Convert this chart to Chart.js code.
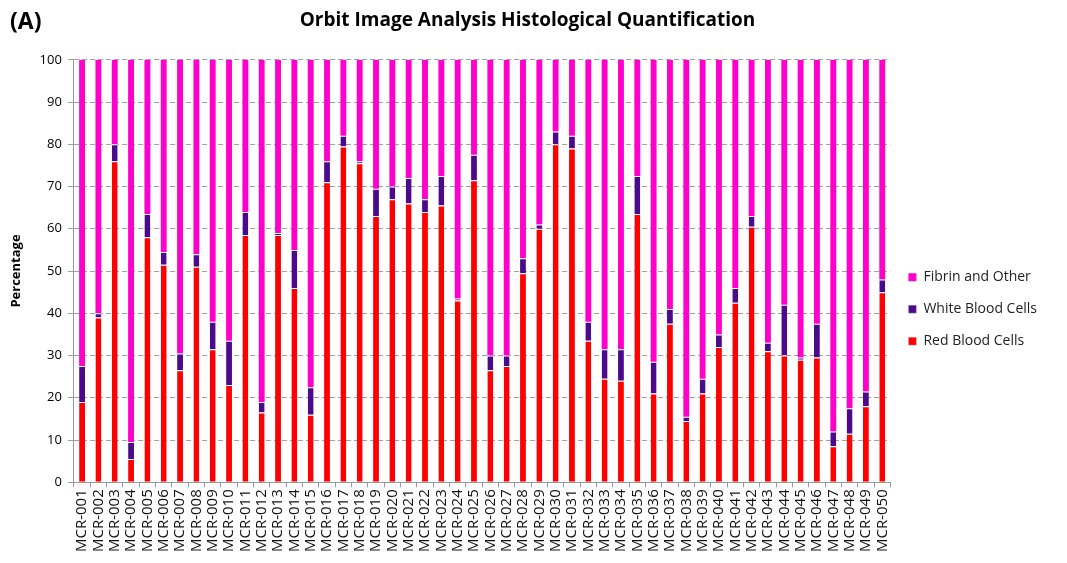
<!DOCTYPE html>
<html lang="en">
<head>
    <meta charset="UTF-8">
    <script src="https://cdn.jsdelivr.net/npm/chart.js"></script>
    <style>
        body {
            margin: 0;
            padding: 0;
            background: #ffffff;
            font-family: "Open Sans", Arial, sans-serif;
        }
        #wrap {
            position: relative;
            width: 1067px;
            height: 563px;
        }
        #panel {
            position: absolute;
            left: 10px;
            top: 4px;
            font-size: 23px;
            font-weight: bold;
        }
    </style>
    <title>Orbit Image Analysis Histological Quantification</title>
</head>
<body>
    <div id="wrap">
        <div id="panel">(A)</div>
        <canvas id="chart" width="1067" height="563"></canvas>
    </div>
    <script>
        // sample names
        const samples = [];
        for (let i = 1; i <= 50; i++) {
            samples.push("MCR-" + String(i).padStart(3, "0"));
        }

        const redBloodCells = [
            19, 39, 76, 5.5, 58, 51.5, 26.5, 51, 31.5, 23,
            58.5, 16.5, 58.5, 46, 16, 71, 79.5, 75.5, 63, 67,
            66, 64, 65.5, 43, 71.5, 26.5, 27.5, 49.5, 60, 80,
            79, 33.5, 24.5, 24, 63.5, 21, 37.5, 14.5, 21, 32,
            42.5, 60.5, 31, 30, 29, 29.5, 8.5, 11.5, 18, 45
        ];
        const whiteBloodCells = [
            8.5, 1, 4, 4, 5.5, 3, 4, 3, 6.5, 10.5,
            5.5, 2.5, 0.5, 9, 6.5, 5, 2.5, 0.5, 6.5, 3,
            6, 3, 7, 0.5, 6, 3.5, 2.5, 3.5, 1, 3,
            3, 4.5, 7, 7.5, 9, 7.5, 3.5, 1, 3.5, 3,
            3.5, 2.5, 2, 12, 0.5, 8, 3.5, 6, 3.5, 3
        ];
        const fibrinAndOther = redBloodCells.map((r, i) => 100 - r - whiteBloodCells[i]);

        const yTicks = [0, 10, 20, 30, 40, 50, 60, 70, 80, 90, 100];

        const ctx = document.getElementById("chart");
        new Chart(ctx, {
            type: "bar",
            data: {
                labels: samples,
                datasets: [
                    {
                        label: "Red Blood Cells",
                        data: redBloodCells,
                        backgroundColor: "#ff0000",
                        borderColor: "#ffffff",
                        borderWidth: { top: 1 },
                        borderSkipped: false
                    },
                    {
                        label: "White Blood Cells",
                        data: whiteBloodCells,
                        backgroundColor: "#4b0a8c",
                        borderColor: "#ffffff",
                        borderWidth: { top: 1 },
                        borderSkipped: false
                    },
                    {
                        label: "Fibrin and Other",
                        data: fibrinAndOther,
                        backgroundColor: "#ff00cc",
                        borderWidth: 0
                    }
                ]
            },
            options: {
                responsive: false,
                animation: false,
                layout: {
                    padding: { left: 8, right: 20, top: 0, bottom: 9 }
                },
                datasets: {
                    bar: {
                        barPercentage: 0.36,
                        categoryPercentage: 1.0
                    }
                },
                plugins: {
                    title: {
                        display: true,
                        text: "Orbit Image Analysis Histological Quantification",
                        font: { family: "Open Sans", size: 19, weight: "bold" },
                        color: "#000000",
                        padding: { top: 9, bottom: 28 }
                    },
                    legend: {
                        position: "right",
                        reverse: true,
                        title: {
                            display: true,
                            text: "",
                            padding: 25,
                            font: { size: 12 }
                        },
                        labels: {
                            boxWidth: 8,
                            boxHeight: 8,
                            padding: 18,
                            color: "#222222",
                            font: { family: "Open Sans", size: 14 }
                        }
                    },
                    tooltip: { enabled: false }
                },
                scales: {
                    x: {
                        stacked: true,
                        grid: {
                            display: true,
                            drawOnChartArea: false,
                            offset: true,
                            tickLength: 5,
                            color: "#999999"
                        },
                        border: { color: "#999999" },
                        ticks: {
                            autoSkip: false,
                            maxRotation: 90,
                            minRotation: 90,
                            padding: 2,
                            color: "#111111",
                            font: { family: "Open Sans", size: 15 }
                        }
                    },
                    y: {
                        stacked: true,
                        min: 0,
                        max: 100,
                        afterBuildTicks: axis => {
                            axis.ticks = yTicks.map(v => ({ value: v }));
                        },
                        grid: {
                            color: "#a0a0a0",
                            tickLength: 6
                        },
                        border: { color: "#999999", dash: [5, 3] },
                        ticks: {
                            padding: 6,
                            color: "#000000",
                            font: { family: "Open Sans", size: 13 }
                        },
                        title: {
                            display: true,
                            text: "Percentage",
                            color: "#000000",
                            padding: { top: 0, bottom: 10 },
                            font: { family: "Open Sans", size: 13, weight: "bold" }
                        }
                    }
                }
            }
        });
    </script>
</body>
</html>
